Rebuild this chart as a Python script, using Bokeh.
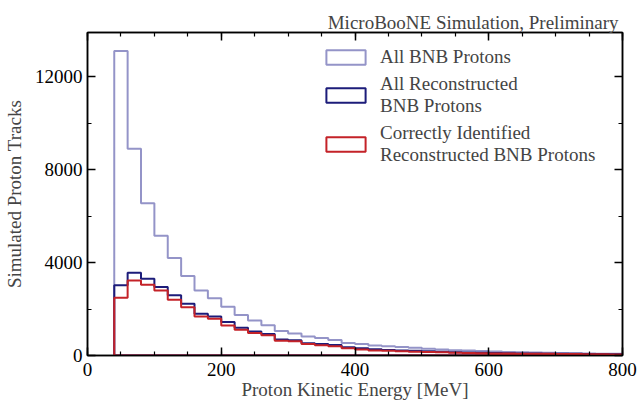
import numpy as np
from bokeh.plotting import figure
from bokeh.models import (Legend, LegendItem, LinearAxis, Range1d,
                          FixedTicker, CustomJSTickFormatter)
from bokeh.embed import file_html
from bokeh.resources import INLINE

# ---- data (MeV bins of 20 from 40 to 800) ----
bin_edges = list(range(40, 801, 20))
all_bnb = [13100, 8900, 6550, 5150, 4200, 3420, 2800, 2460, 2100, 1740,
           1510, 1300, 1050, 950, 820, 750, 670, 540, 490, 430,
           400, 370, 330, 290, 260, 230, 210, 190, 170, 150,
           140, 130, 120, 110, 100, 90, 80, 70]
all_reco = [3020, 3560, 3300, 2950, 2590, 2230, 1800, 1680, 1440, 1190,
            1030, 930, 690, 660, 530, 490, 450, 360, 315, 265,
            240, 220, 200, 180, 160, 145, 130, 120, 110, 100,
            90, 85, 80, 75, 70, 65, 60, 55]
correct_id = [2490, 3230, 3050, 2800, 2400, 2080, 1680, 1580, 1290, 1110,
              970, 870, 640, 610, 500, 445, 400, 315, 260, 215,
              200, 180, 165, 150, 135, 120, 110, 100, 90, 85,
              80, 75, 70, 65, 60, 55, 50, 45]
series_labels = ["All BNB Protons", "All Reconstructed\nBNB Protons",
                 "Correctly Identified\nReconstructed BNB Protons"]
series_colors = ["#9494c8", "#1c1c7a", "#c42228"]
x_ticks = [0, 200, 400, 600, 800]
x_minor = list(range(0, 801, 50))
y_ticks = [0, 4000, 8000, 12000]
y_minor = list(range(0, 14001, 2000))
title_text = "MicroBooNE Simulation, Preliminary"
x_label = "Proton Kinetic Energy [MeV]"
y_label = "Simulated Proton Tracks"

FONT = "Liberation Serif"
FS = "19px"


def step_path(edges, vals):
    xs, ys = [edges[0]], [0]
    for i, v in enumerate(vals):
        xs += [edges[i], edges[i + 1]]
        ys += [v, v]
    xs.append(edges[-1])
    ys.append(0)
    return xs, ys


p = figure(width=638, height=404, x_range=Range1d(0, 800),
           y_range=Range1d(0, 13900), output_backend="svg",
           toolbar_location=None, min_border_left=85, min_border_right=16,
           min_border_top=32, min_border_bottom=49)
p.grid.visible = False
p.outline_line_color = "black"
p.outline_line_width = 1.5
p.background_fill_color = "white"
p.border_fill_color = "white"

p.title.text = title_text
p.title.align = "right"
p.title.offset = 4
p.title.text_font = FONT
p.title.text_font_size = FS
p.title.text_font_style = "normal"
p.title.standoff = 0


def style_axis(ax, labels=True):
    ax.axis_line_width = 1.5
    ax.major_tick_in = 8
    ax.major_tick_out = 0
    ax.minor_tick_in = 4
    ax.minor_tick_out = 0
    ax.major_tick_line_width = 1.5
    ax.minor_tick_line_width = 1.2
    ax.major_label_text_font = FONT
    ax.major_label_text_font_size = FS
    ax.major_label_text_color = "black"
    ax.axis_label_text_font = FONT
    ax.axis_label_text_font_size = FS
    ax.axis_label_text_font_style = "normal"
    ax.major_label_standoff = 5
    if not labels:
        ax.formatter = CustomJSTickFormatter(code="return ''")
        ax.major_label_standoff = 0


p.xaxis.ticker = FixedTicker(ticks=x_ticks, minor_ticks=x_minor)
p.yaxis.ticker = FixedTicker(ticks=y_ticks, minor_ticks=y_minor)
p.xaxis.axis_label = x_label
p.yaxis.axis_label = y_label
style_axis(p.xaxis[0])
style_axis(p.yaxis[0])
p.xaxis.axis_label_standoff = 0
p.xaxis.major_label_standoff = 7
p.yaxis.axis_label_standoff = 7

top = LinearAxis(ticker=FixedTicker(ticks=x_ticks, minor_ticks=x_minor))
right = LinearAxis(ticker=FixedTicker(ticks=y_ticks, minor_ticks=y_minor))
style_axis(top, labels=False)
style_axis(right, labels=False)
top.major_label_standoff = 5
p.add_layout(top, "above")
p.add_layout(right, "right")

items = []
for vals, col, lab in zip([all_bnb, all_reco, correct_id], series_colors, series_labels):
    xs, ys = step_path(bin_edges, vals)
    r = p.patch(xs, ys, line_color=col, line_width=2,
                fill_color="white", fill_alpha=0)
    items.append(LegendItem(label=lab, renderers=[r]))

leg = Legend(items=items, location=(234, 189))
leg.glyph_width = 49
leg.glyph_height = 18
leg.label_text_font = FONT
leg.label_text_font_size = FS
leg.label_text_line_height = 1.05
leg.border_line_alpha = 0
leg.background_fill_alpha = 0
leg.padding = 0
leg.margin = 0
leg.spacing = 5
leg.label_standoff = 10
p.add_layout(leg, "center")

open("out.html", "w").write(file_html(p, INLINE))
